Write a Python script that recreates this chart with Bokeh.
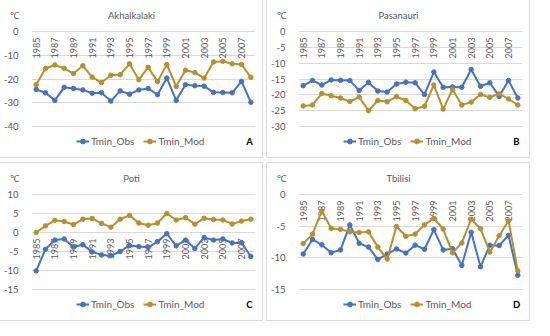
import math
from bokeh.plotting import figure
from bokeh.models import (Range1d, Label, Legend, LegendItem, ColumnDataSource,
                          FixedTicker, CustomJSTickFormatter)
from bokeh.layouts import column, row
from bokeh.embed import file_html
from bokeh.resources import INLINE
from bokeh.core.properties import value

# ---------------- data ----------------
years = [1985, 1986, 1987, 1988, 1989, 1990, 1991, 1992, 1993, 1994, 1995, 1996,
         1997, 1998, 1999, 2000, 2001, 2002, 2003, 2004, 2005, 2006, 2007, 2008]
year_labels = ["1985", "", "1987", "", "1989", "", "1991", "", "1993", "", "1995", "",
               "1997", "", "1999", "", "2001", "", "2003", "", "2005", "", "2007", ""]

akh_obs = [-24.4, -25.8, -29.0, -23.5, -24.0, -24.6, -26.0, -25.8, -29.3, -25.0, -26.4, -24.6,
           -24.0, -26.6, -19.6, -29.0, -22.4, -22.8, -23.0, -25.6, -25.7, -25.8, -21.0, -29.8]
akh_mod = [-22.4, -15.6, -14.1, -15.5, -17.7, -14.4, -19.2, -21.5, -18.4, -18.2, -13.6, -20.3,
           -15.1, -21.1, -13.9, -23.1, -16.3, -17.3, -19.6, -12.8, -12.5, -13.6, -13.9, -19.3]

pas_obs = [-17.1, -15.5, -16.9, -15.3, -15.4, -15.5, -18.6, -16.1, -18.8, -19.1, -16.6, -16.0,
           -16.2, -19.9, -12.8, -17.6, -17.5, -17.6, -12.0, -17.3, -16.2, -20.5, -15.5, -21.0]
pas_mod = [-23.5, -23.2, -19.6, -20.3, -21.0, -22.1, -20.7, -25.0, -21.8, -22.2, -20.6, -21.8,
           -24.4, -23.6, -16.9, -24.5, -18.3, -23.2, -22.3, -19.9, -20.8, -19.7, -21.3, -23.2]

pot_obs = [-10.1, -4.4, -2.0, -1.7, -3.8, -3.2, -5.1, -5.9, -6.1, -5.0, -3.4, -3.7,
           -3.9, -2.4, -0.3, -3.5, -2.0, -4.2, -1.3, -2.0, -1.7, -2.75, -2.7, -6.3]
pot_mod = [0.0, 1.75, 3.2, 2.9, 2.1, 3.5, 3.7, 2.4, 1.4, 3.5, 4.5, 2.5,
           1.9, 2.5, 5.0, 3.3, 3.9, 2.2, 3.75, 3.4, 3.3, 2.25, 3.0, 3.5]

tbi_obs = [-9.4, -7.1, -7.95, -9.2, -8.75, -4.8, -7.7, -8.3, -10.25, -9.4, -8.6, -9.25,
           -8.0, -8.65, -5.55, -8.75, -8.55, -11.2, -5.95, -11.4, -8.0, -8.05, -6.45, -12.75]
tbi_mod = [-7.75, -6.25, -2.6, -5.35, -5.5, -5.9, -6.0, -5.9, -8.3, -10.2, -5.05, -6.6,
           -6.25, -4.8, -3.75, -5.45, -9.2, -7.65, -3.9, -5.4, -9.1, -6.5, -4.15, -12.05]

akh_ticks = [-40, -30, -20, -10, 0]
pas_ticks = [-30, -25, -20, -15, -10, -5, 0]
pot_ticks = [-15, -10, -5, 0, 5, 10]
tbi_ticks = [-15, -10, -5, 0]

series_names = ["Tmin_Obs", "Tmin_Mod"]
unit_label = "\u2103"

# ---------------- style ----------------
FONT = "Lato"
GRAY = "#595959"
GRID = "#D9D9D9"
OBS = "#4472C4"
MOD = "#B8902A"

W, H = 262, 157
FL, FR = 30, 7          # frame left / right borders
FT, FB = 3, 3           # frame top / bottom borders
PT, PB = 31, 126        # pixel rows (from figure top) of top / bottom tick
TITLE_Y = 15            # pixel row of the title line
LEGEND_Y = 141          # pixel row of the legend line


def panel(name, letter, obs, mod, ticks):
    ymin, ymax = min(ticks), max(ticks)
    upp = (ymax - ymin) / (PB - PT)
    y_top = ymax + (PT - FT) * upp
    y_bot = ymin - (H - FB - PB) * upp
    y_unit = ymax + (PT - TITLE_Y) * upp

    p = figure(width=W, height=H, output_backend="svg", toolbar_location=None,
               x_range=Range1d(1984.5, 2008.5),
               y_range=Range1d(y_bot, y_top),
               x_axis_location=None,
               min_border_left=FL, min_border_right=FR,
               min_border_top=FT, min_border_bottom=FB)
    p.outline_line_color = None
    p.background_fill_color = "white"
    p.border_fill_color = "white"
    p.styles = {"outline": "1px solid #D9D9D9"}

    p.yaxis.ticker = FixedTicker(ticks=ticks + [y_unit])
    p.yaxis.formatter = CustomJSTickFormatter(
        args=dict(top=ymax, unit=unit_label),
        code="return tick > top + 1e-9 ? unit : String(Math.round(tick));")
    p.yaxis.axis_line_color = None
    p.yaxis.major_tick_line_color = None
    p.yaxis.minor_tick_line_color = None
    p.yaxis.major_label_standoff = 7
    p.yaxis.major_label_text_font = FONT
    p.yaxis.major_label_text_font_size = "9.5px"
    p.yaxis.major_label_text_color = GRAY
    p.ygrid.ticker = FixedTicker(ticks=ticks)
    p.ygrid.grid_line_color = GRID
    p.xgrid.grid_line_color = None

    # category labels hanging from y = 0
    src = ColumnDataSource(dict(x=years, y=[0] * len(years), t=year_labels))
    p.text(x="x", y="y", text="t", source=src, angle=math.pi / 2,
           text_align="right", text_baseline="middle", y_offset=6,
           text_font=value(FONT), text_font_size="9px", text_color=GRAY)

    l1 = p.line(years, obs, line_color=OBS, line_width=2)
    s1 = p.scatter(years, obs, size=4.5, fill_color=OBS, line_color=OBS)
    l2 = p.line(years, mod, line_color=MOD, line_width=2)
    s2 = p.scatter(years, mod, size=4.5, fill_color=MOD, line_color=MOD)

    fb = H - FB  # frame bottom row
    legend = Legend(items=[LegendItem(label=series_names[0], renderers=[l1, s1]),
                           LegendItem(label=series_names[1], renderers=[l2, s2])],
                    location=(45, fb - LEGEND_Y - 6), orientation="horizontal",
                    border_line_color=None, background_fill_alpha=0,
                    padding=0, margin=0, spacing=9,
                    glyph_width=13, glyph_height=12, label_height=12,
                    label_standoff=2, label_text_font=FONT,
                    label_text_font_size="10px", label_text_color=GRAY)
    p.add_layout(legend)

    p.add_layout(Label(x=100, y=fb - TITLE_Y, x_units="screen", y_units="screen", text=name,
                       text_align="center", text_baseline="middle",
                       text_font=FONT, text_font_size="9.5px", text_color=GRAY))
    p.add_layout(Label(x=218, y=fb - LEGEND_Y, x_units="screen", y_units="screen", text=letter,
                       text_align="center", text_baseline="middle",
                       text_font=FONT, text_font_size="9.5px", text_font_style="bold",
                       text_color="#000000"))
    return p


pA = panel("Akhalkalaki", "A", akh_obs, akh_mod, akh_ticks)
pB = panel("Pasanauri", "B", pas_obs, pas_mod, pas_ticks)
pC = panel("Poti", "C", pot_obs, pot_mod, pot_ticks)
pD = panel("Tbilisi", "D", tbi_obs, tbi_mod, tbi_ticks)

layout = column(row(pA, pB, spacing=5), row(pC, pD, spacing=5), spacing=6)

open("out.html", "w").write(file_html(layout, INLINE))
